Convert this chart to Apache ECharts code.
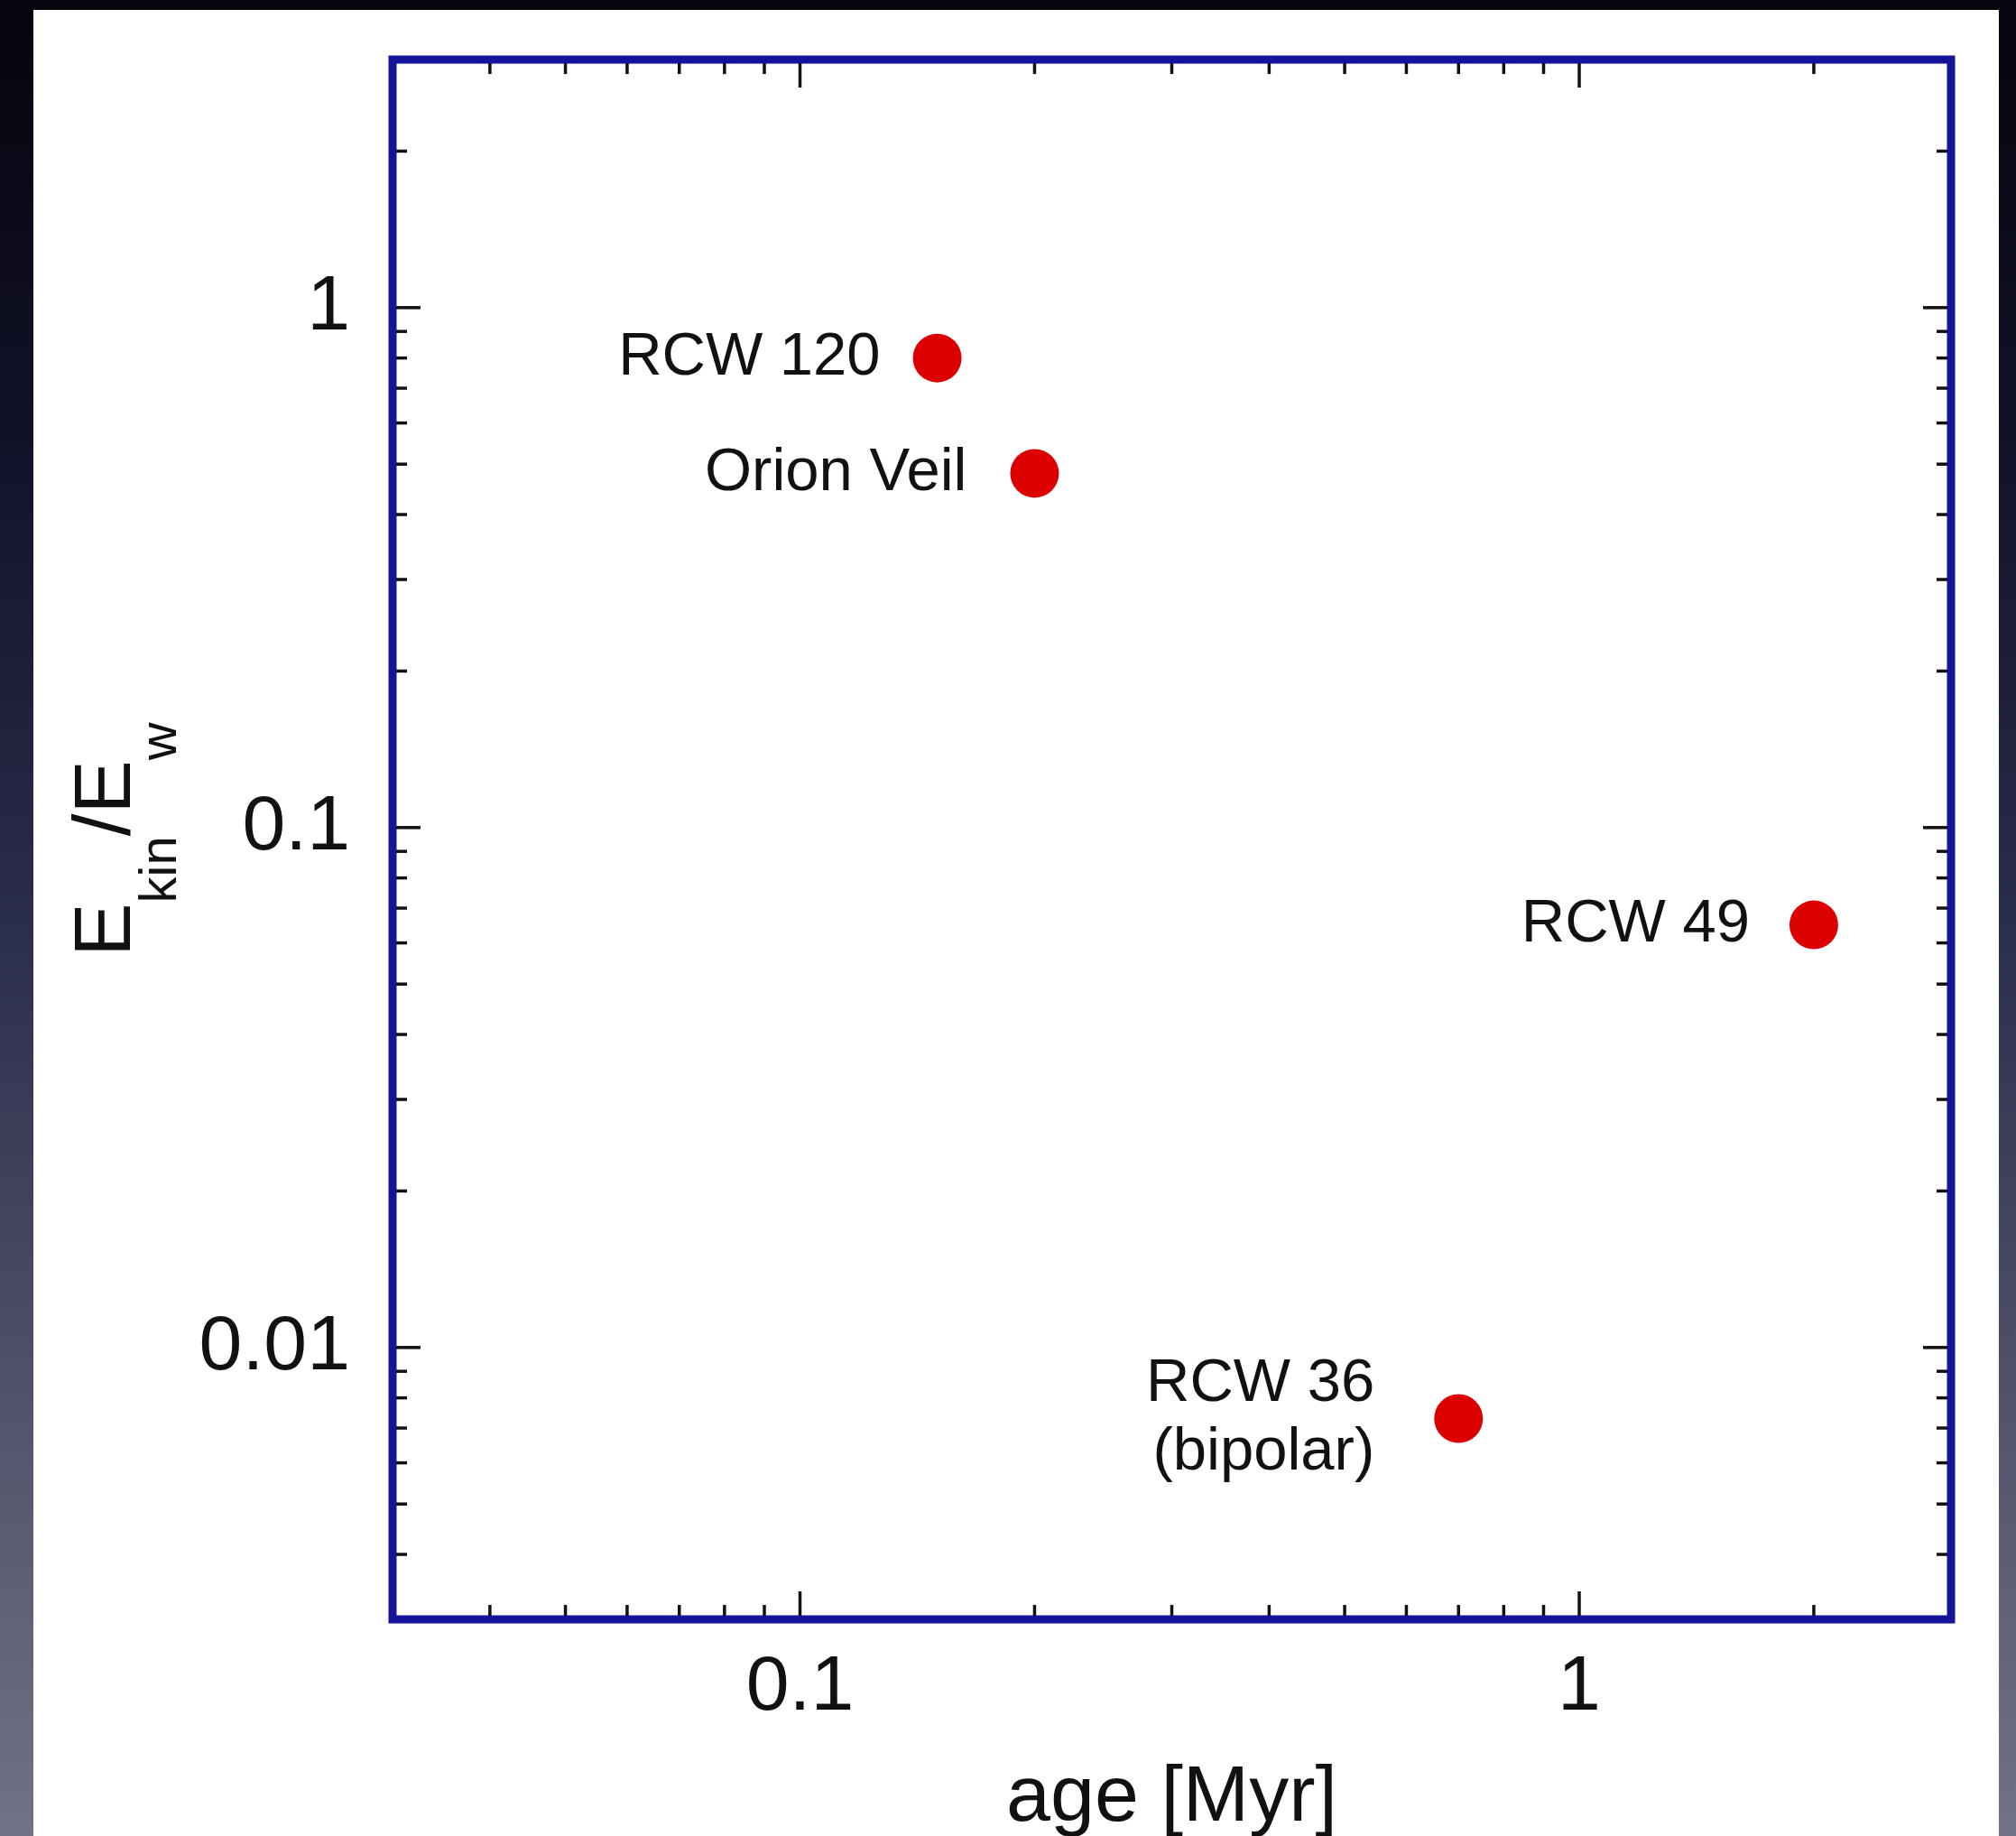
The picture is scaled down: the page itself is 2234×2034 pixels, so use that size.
<!DOCTYPE html>
<html>
<head>
<meta charset="utf-8">
<script src="https://cdn.jsdelivr.net/npm/echarts/dist/echarts.min.js"></script>
<style>
  html, body { margin: 0; padding: 0; width: 2234px; height: 2034px; overflow: hidden; }
  body { background: linear-gradient(to bottom, #05050d 0%, #12132a 25%, #2a2d4b 50%, #4f5169 75%, #717285 100%); position: relative; }
  #panel { position: absolute; left: 37px; top: 11px; width: 2178px; height: 2030px; background: #ffffff; }
  #chart { position: absolute; left: 0; top: 0; width: 2234px; height: 2034px; }
</style>
</head>
<body>
<div id="panel"></div>
<div id="chart"></div>
<script>
// ---------------- data ----------------
const names  = ['RCW 120', 'Orion Veil', 'RCW 49', 'RCW 36\n(bipolar)'];
const ages   = [0.15, 0.2, 2.0, 0.7];          // age [Myr]
const ratios = [0.80, 0.48, 0.065, 0.0073];    // E_kin / E_w

// axis ranges and ticks
const X_MIN = 0.03, X_MAX = 3;
const Y_MIN = 0.003, Y_MAX = 3;
const xMajorTicks = [0.1, 1];
const xTickLabels = ['0.1', '1'];
const xMinorTicks = [0.04, 0.05, 0.06, 0.07, 0.08, 0.09, 0.2, 0.3, 0.4, 0.5, 0.6, 0.7, 0.8, 0.9, 2];
const yMajorTicks = [0.01, 0.1, 1];
const yTickLabels = ['0.01', '0.1', '1'];
const yMinorTicks = [0.004, 0.005, 0.006, 0.007, 0.008, 0.009,
                     0.02, 0.03, 0.04, 0.05, 0.06, 0.07, 0.08, 0.09,
                     0.2, 0.3, 0.4, 0.5, 0.6, 0.7, 0.8, 0.9, 2];

// ---------------- styles ----------------
const FONT = "'Liberation Sans', Arial, Helvetica, sans-serif";
const FRAME = '#14149a';
const INK = '#111111';
const DOT = '#dd0000';
const LABEL_GAPS = [36, 48, 44, 66];
const MAJOR_LEN = 31, MINOR_LEN = 16, TICK_START = 4;

function labelFor(values, labels) {
  return function (v) {
    for (let i = 0; i < values.length; i++) {
      if (Math.abs(Math.log10(v) - Math.log10(values[i])) < 1e-6) return labels[i];
    }
    return '';
  };
}

const xTickData = xMinorTicks.map(v => [v, Y_MIN, 0]).concat(xMajorTicks.map(v => [v, Y_MIN, 1]));
const yTickData = yMinorTicks.map(v => [X_MIN, v, 0]).concat(yMajorTicks.map(v => [X_MIN, v, 1]));

const tickStyle = { stroke: '#111111', lineWidth: 3.5 };

const chart = echarts.init(document.getElementById('chart'), null, { renderer: 'canvas' });
chart.setOption({
  backgroundColor: 'transparent',
  animation: false,
  grid: {
    left: 435, top: 66, width: 1727, height: 1728,
    outerBoundsMode: 'none', containLabel: false,
    show: true, borderColor: FRAME, borderWidth: 9, backgroundColor: 'transparent'
  },
  xAxis: {
    type: 'log', logBase: 10, min: X_MIN, max: X_MAX,
    axisLine: { show: false }, axisTick: { show: false }, splitLine: { show: false }, minorTick: { show: false },
    axisLabel: { formatter: labelFor(xMajorTicks, xTickLabels), fontFamily: FONT, fontSize: 86, color: INK, margin: 33 },
    name: 'age [Myr]', nameLocation: 'middle', nameGap: 155, nameMoveOverlap: false,
    nameTextStyle: { fontFamily: FONT, fontSize: 88, color: INK }
  },
  yAxis: {
    type: 'log', logBase: 10, min: Y_MIN, max: Y_MAX,
    axisLine: { show: false }, axisTick: { show: false }, splitLine: { show: false }, minorTick: { show: false },
    axisLabel: { formatter: labelFor(yMajorTicks, yTickLabels), fontFamily: FONT, fontSize: 86, color: INK, margin: 47, padding: [0, 0, 34, 0] },
    name: '{E|E}{s|kin}{E|/E}{s|w}', nameLocation: 'middle', nameRotate: 90, nameGap: 227, nameMoveOverlap: false,
    nameTextStyle: {
      fontFamily: FONT, color: INK,
      rich: {
        E: { fontFamily: FONT, fontSize: 89, lineHeight: 90, verticalAlign: 'top', color: INK },
        s: { fontFamily: FONT, fontSize: 58, lineHeight: 133, verticalAlign: 'bottom', color: INK }
      }
    }
  },
  series: [
    {
      type: 'custom', name: 'xticks', silent: true, clip: false, z: 3,
      data: xTickData,
      renderItem: function (params, api) {
        const v = api.value(0);
        const len = api.value(2) ? MAJOR_LEN : MINOR_LEN;
        const pb = api.coord([v, Y_MIN]);
        const pt = api.coord([v, Y_MAX]);
        return { type: 'group', children: [
          { type: 'line', shape: { x1: pb[0], y1: pb[1] - TICK_START, x2: pb[0], y2: pb[1] - len }, style: tickStyle },
          { type: 'line', shape: { x1: pt[0], y1: pt[1] + TICK_START, x2: pt[0], y2: pt[1] + len }, style: tickStyle }
        ]};
      }
    },
    {
      type: 'custom', name: 'yticks', silent: true, clip: false, z: 3,
      data: yTickData,
      renderItem: function (params, api) {
        const v = api.value(1);
        const len = api.value(2) ? MAJOR_LEN : MINOR_LEN;
        const pl = api.coord([X_MIN, v]);
        const pr = api.coord([X_MAX, v]);
        return { type: 'group', children: [
          { type: 'line', shape: { x1: pl[0] + TICK_START, y1: pl[1], x2: pl[0] + len, y2: pl[1] }, style: tickStyle },
          { type: 'line', shape: { x1: pr[0] - TICK_START, y1: pr[1], x2: pr[0] - len, y2: pr[1] }, style: tickStyle }
        ]};
      }
    },
    {
      type: 'scatter', name: 'regions', z: 5,
      symbol: 'circle', symbolSize: 54,
      itemStyle: { color: DOT, opacity: 1 },
      label: {
        show: true, position: 'left', formatter: '{b}',
        fontFamily: FONT, fontSize: 67, lineHeight: 76, color: INK, opacity: 1
      },
      data: ages.map((a, i) => ({ name: names[i], value: [a, ratios[i]], label: { distance: LABEL_GAPS[i], color: INK } }))
    }
  ]
});
</script>
</body>
</html>
